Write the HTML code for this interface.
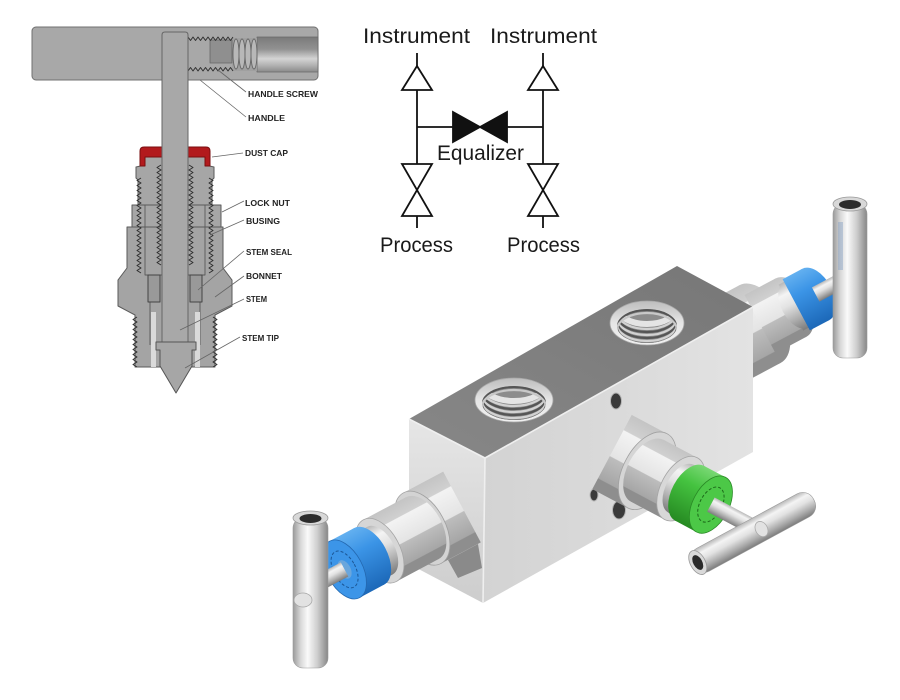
<!DOCTYPE html>
<html><head><meta charset="utf-8"><style>
html,body{margin:0;padding:0;background:#fff;}
svg{display:block}
</style></head><body>
<svg width="900" height="700" viewBox="0 0 900 700" xmlns="http://www.w3.org/2000/svg">
<defs>
<linearGradient id="gCyl" x1="0" y1="0" x2="0" y2="1">
<stop offset="0" stop-color="#b8b8b8"/><stop offset="0.22" stop-color="#f4f4f4"/><stop offset="0.45" stop-color="#e2e2e2"/><stop offset="0.75" stop-color="#adadad"/><stop offset="1" stop-color="#7c7c7c"/>
</linearGradient>
<linearGradient id="gHex" x1="0" y1="0" x2="0" y2="1">
<stop offset="0" stop-color="#c4c4c4"/><stop offset="0.2" stop-color="#d0d0d0"/><stop offset="0.21" stop-color="#f3f3f3"/><stop offset="0.55" stop-color="#e4e4e4"/><stop offset="0.56" stop-color="#bdbdbd"/><stop offset="0.85" stop-color="#a6a6a6"/><stop offset="0.86" stop-color="#8e8e8e"/><stop offset="1" stop-color="#8e8e8e"/>
</linearGradient>
<linearGradient id="gBlue" x1="0" y1="0" x2="0" y2="1"><stop offset="0" stop-color="#63b0f0"/><stop offset="0.35" stop-color="#3b94e6"/><stop offset="1" stop-color="#1c68b8"/></linearGradient>
<linearGradient id="gGreen" x1="0" y1="0" x2="0" y2="1"><stop offset="0" stop-color="#79d874"/><stop offset="0.35" stop-color="#45c340"/><stop offset="1" stop-color="#268a22"/></linearGradient>
<linearGradient id="gHV" x1="0" y1="0" x2="1" y2="0"><stop offset="0" stop-color="#9a9a9a"/><stop offset="0.22" stop-color="#d8d8d8"/><stop offset="0.42" stop-color="#fafafa"/><stop offset="0.7" stop-color="#cdcdcd"/><stop offset="1" stop-color="#878787"/></linearGradient>
<linearGradient id="gBar" x1="0" y1="0" x2="0" y2="1"><stop offset="0" stop-color="#7a7a7a"/><stop offset="0.35" stop-color="#929292"/><stop offset="0.62" stop-color="#d4d4d4"/><stop offset="0.8" stop-color="#b4b4b4"/><stop offset="1" stop-color="#8a8a8a"/></linearGradient>
<linearGradient id="gTop" x1="0" y1="1" x2="1" y2="0"><stop offset="0" stop-color="#878787"/><stop offset="1" stop-color="#777777"/></linearGradient>
<linearGradient id="gFront" x1="0" y1="0" x2="1" y2="0"><stop offset="0" stop-color="#d3d3d3"/><stop offset="0.5" stop-color="#dadada"/><stop offset="1" stop-color="#e3e3e3"/></linearGradient>
<linearGradient id="gEnd" x1="0" y1="0" x2="0" y2="1"><stop offset="0" stop-color="#e6e6e6"/><stop offset="1" stop-color="#cdcdcd"/></linearGradient>
<linearGradient id="gRim" x1="0" y1="0" x2="0" y2="1"><stop offset="0" stop-color="#bdbdbd"/><stop offset="0.5" stop-color="#e6e6e6"/><stop offset="1" stop-color="#f0f0f0"/></linearGradient>
<clipPath id="h1"><ellipse cx="514" cy="403" rx="32" ry="17"/></clipPath>
<clipPath id="h2"><ellipse cx="647" cy="326" rx="30" ry="17"/></clipPath>
</defs>

<!-- ================= CROSS SECTION ================= -->
<g stroke-linejoin="round">
<rect x="32" y="27" width="286" height="53" rx="4" fill="#a8a8a8" stroke="#707070" stroke-width="1"/>
<rect x="257" y="37" width="61" height="35" fill="url(#gBar)" stroke="#6a6a6a" stroke-width="0.8"/>
<rect x="232" y="38" width="25" height="33" fill="#a0a0a0"/>
<g fill="#b8b8b8" stroke="#666" stroke-width="0.9">
<ellipse cx="236" cy="54" rx="3" ry="15"/><ellipse cx="242" cy="54" rx="3" ry="15"/><ellipse cx="248" cy="54" rx="3" ry="15"/><ellipse cx="254" cy="54" rx="3" ry="15"/>
</g>
<rect x="210" y="40" width="22" height="23" fill="#8f8f8f" stroke="#666" stroke-width="0.8"/>
<g fill="none" stroke="#333" stroke-width="1">
<path d="M188,37 l2.5,3.5 2.5,-3.5 2.5,3.5 2.5,-3.5 2.5,3.5 2.5,-3.5 2.5,3.5 2.5,-3.5 2.5,3.5 2.5,-3.5 2.5,3.5 2.5,-3.5 2.5,3.5 2.5,-3.5 2.5,3.5 2.5,-3.5 2.5,3.5 2.5,-3.5"/>
<path d="M188,71 l2.5,-3.5 2.5,3.5 2.5,-3.5 2.5,3.5 2.5,-3.5 2.5,3.5 2.5,-3.5 2.5,3.5 2.5,-3.5 2.5,3.5 2.5,-3.5 2.5,3.5 2.5,-3.5 2.5,3.5 2.5,-3.5 2.5,3.5 2.5,-3.5 2.5,3.5"/>
</g>

<!-- bonnet -->
<polygon points="127,227 223,227 223,268 232,280 232,306 215,315 215,367 135,367 135,315 118,306 118,280 127,268" fill="#a4a4a4" stroke="#5a5a5a" stroke-width="1"/>
<!-- lock nut -->
<rect x="132" y="205" width="89" height="22" fill="#a6a6a6" stroke="#5a5a5a" stroke-width="1"/>
<!-- bushing -->
<path d="M145,157 H205 V165 L214,167 V178 L212,180 V205 H138 V180 L136,178 V167 L145,165 Z" fill="#a6a6a6" stroke="#5a5a5a" stroke-width="1"/>
<g fill="none" stroke="#5a5a5a" stroke-width="0.9">
<path d="M145,205 V275 H205 V205"/>
<path d="M150,302 V345 M200,302 V345"/>
</g>
<!-- stem seals -->
<rect x="148" y="275" width="12" height="27" fill="#999" stroke="#444" stroke-width="1"/>
<rect x="190" y="275" width="12" height="27" fill="#999" stroke="#444" stroke-width="1"/>
<!-- bore light strips -->
<rect x="151" y="312" width="5" height="55" fill="#dadada"/>
<rect x="195" y="312" width="5" height="55" fill="#dadada"/>
<!-- threads -->
<g fill="none" stroke="#2e2e2e" stroke-width="1">
<path d="M141,178 l-4,2.5 4,2.5 -4,2.5 4,2.5 -4,2.5 4,2.5 -4,2.5 4,2.5 -4,2.5 4,2.5 -4,2.5 4,2.5 -4,2.5 4,2.5 -4,2.5 4,2.5 -4,2.5 4,2.5 -4,2.5 4,2.5 -4,2.5 4,2.5 -4,2.5 4,2.5 -4,2.5 4,2.5 -4,2.5 4,2.5 -4,2.5 4,2.5 -4,2.5 4,2.5 -4,2.5 4,2.5 -4,2.5 4,2.5 -4,2.5 4,2.5"/>
<path d="M209,178 l4,2.5 -4,2.5 4,2.5 -4,2.5 4,2.5 -4,2.5 4,2.5 -4,2.5 4,2.5 -4,2.5 4,2.5 -4,2.5 4,2.5 -4,2.5 4,2.5 -4,2.5 4,2.5 -4,2.5 4,2.5 -4,2.5 4,2.5 -4,2.5 4,2.5 -4,2.5 4,2.5 -4,2.5 4,2.5 -4,2.5 4,2.5 -4,2.5 4,2.5 -4,2.5 4,2.5 -4,2.5 4,2.5 -4,2.5 4,2.5 -4,2.5"/>
<path d="M161,165 l-4,2.5 4,2.5 -4,2.5 4,2.5 -4,2.5 4,2.5 -4,2.5 4,2.5 -4,2.5 4,2.5 -4,2.5 4,2.5 -4,2.5 4,2.5 -4,2.5 4,2.5 -4,2.5 4,2.5 -4,2.5 4,2.5 -4,2.5 4,2.5 -4,2.5 4,2.5 -4,2.5 4,2.5 -4,2.5 4,2.5 -4,2.5 4,2.5 -4,2.5 4,2.5 -4,2.5 4,2.5 -4,2.5 4,2.5 -4,2.5 4,2.5 -4,2.5 4,2.5"/>
<path d="M189,165 l4,2.5 -4,2.5 4,2.5 -4,2.5 4,2.5 -4,2.5 4,2.5 -4,2.5 4,2.5 -4,2.5 4,2.5 -4,2.5 4,2.5 -4,2.5 4,2.5 -4,2.5 4,2.5 -4,2.5 4,2.5 -4,2.5 4,2.5 -4,2.5 4,2.5 -4,2.5 4,2.5 -4,2.5 4,2.5 -4,2.5 4,2.5 -4,2.5 4,2.5 -4,2.5 4,2.5 -4,2.5 4,2.5 -4,2.5 4,2.5 -4,2.5 4,2.5 -4,2.5"/>
<path d="M137,317 l-4,2.5 4,2.5 -4,2.5 4,2.5 -4,2.5 4,2.5 -4,2.5 4,2.5 -4,2.5 4,2.5 -4,2.5 4,2.5 -4,2.5 4,2.5 -4,2.5 4,2.5 -4,2.5 4,2.5 -4,2.5 4,2.5"/>
<path d="M213,317 l4,2.5 -4,2.5 4,2.5 -4,2.5 4,2.5 -4,2.5 4,2.5 -4,2.5 4,2.5 -4,2.5 4,2.5 -4,2.5 4,2.5 -4,2.5 4,2.5 -4,2.5 4,2.5 -4,2.5 4,2.5 -4,2.5"/>
</g>
<!-- dust cap -->
<path d="M140,166 V151 Q140,147 144,147 H206 Q210,147 210,151 V166 H205 V157 H145 V166 Z" fill="#b21a1d" stroke="#7a0d0f" stroke-width="1"/>
<!-- stem -->
<path d="M162,345 V35 Q162,32 165,32 H185 Q188,32 188,35 V345 Z" fill="#a8a8a8" stroke="#666" stroke-width="1"/>
<!-- stem tip -->
<path d="M156,342 H196 V350 H192 V366 L176,393 L160,366 V350 H156 Z" fill="#a6a6a6" stroke="#555" stroke-width="1"/>
</g>

<!-- leader lines -->
<g stroke="#666" stroke-width="0.8" fill="none">
<line x1="218" y1="70" x2="246" y2="92"/>
<line x1="200" y1="80" x2="246" y2="117"/>
<line x1="212" y1="157" x2="243" y2="153"/>
<line x1="222" y1="212" x2="244" y2="201"/>
<line x1="210" y1="235" x2="244" y2="220"/>
<line x1="198" y1="290" x2="244" y2="251"/>
<line x1="215" y1="297" x2="244" y2="276"/>
<line x1="180" y1="330" x2="244" y2="299"/>
<line x1="185" y1="368" x2="240" y2="337"/>
</g>
<g font-family="'Liberation Sans', Arial, sans-serif" font-weight="bold" font-size="8.5" fill="#222" lengthAdjust="spacingAndGlyphs">
<text x="248" y="97" textLength="70" lengthAdjust="spacingAndGlyphs">HANDLE SCREW</text>
<text x="248" y="121" textLength="37" lengthAdjust="spacingAndGlyphs">HANDLE</text>
<text x="245" y="156" textLength="43" lengthAdjust="spacingAndGlyphs">DUST CAP</text>
<text x="245" y="206" textLength="45" lengthAdjust="spacingAndGlyphs">LOCK NUT</text>
<text x="246" y="224" textLength="34" lengthAdjust="spacingAndGlyphs">BUSING</text>
<text x="246" y="255" textLength="46" lengthAdjust="spacingAndGlyphs">STEM SEAL</text>
<text x="246" y="279" textLength="36" lengthAdjust="spacingAndGlyphs">BONNET</text>
<text x="246" y="302" textLength="21" lengthAdjust="spacingAndGlyphs">STEM</text>
<text x="242" y="341" textLength="37" lengthAdjust="spacingAndGlyphs">STEM TIP</text>
</g>

<!-- ================= SCHEMATIC ================= -->
<g stroke="#111" stroke-width="1.8" fill="#fff">
<line x1="417" y1="53" x2="417" y2="228" fill="none"/>
<line x1="543" y1="53" x2="543" y2="228" fill="none"/>
<line x1="417" y1="127" x2="543" y2="127" fill="none"/>
<polygon points="417,66 402,90 432,90"/>
<polygon points="543,66 528,90 558,90"/>
<polygon points="402,164 432,164 417,190"/>
<polygon points="402,216 432,216 417,190"/>
<polygon points="528,164 558,164 543,190"/>
<polygon points="528,216 558,216 543,190"/>
<polygon points="453,112 453,142 480,127 507,112 507,142 480,127" fill="#111"/>
</g>
<g font-family="'Liberation Sans', Arial, sans-serif" font-size="21" fill="#1a1a1a">
<text x="363" y="43" textLength="107" lengthAdjust="spacingAndGlyphs">Instrument</text>
<text x="490" y="43" textLength="107" lengthAdjust="spacingAndGlyphs">Instrument</text>
<text x="437" y="160" textLength="87" lengthAdjust="spacingAndGlyphs">Equalizer</text>
<text x="380" y="252" textLength="73" lengthAdjust="spacingAndGlyphs">Process</text>
<text x="507" y="252" textLength="73" lengthAdjust="spacingAndGlyphs">Process</text>
</g>

<!-- ================= 3D MANIFOLD ================= -->
<!-- right valve (behind block) -->
<g transform="translate(700,356) rotate(-28)">
<rect x="20" y="-44" width="48" height="88" fill="url(#gHex)"/>
<ellipse cx="68" cy="0" rx="25" ry="44" fill="url(#gHex)"/>
<rect x="68" y="-33" width="35" height="66" fill="url(#gHex)"/>
<ellipse cx="103" cy="0" rx="19" ry="33" fill="url(#gHex)"/>
<rect x="103" y="-26" width="6" height="52" fill="url(#gCyl)"/>
<ellipse cx="109" cy="0" rx="15" ry="26" fill="url(#gCyl)"/>
<rect x="109" y="-29" width="22" height="58" fill="url(#gBlue)"/>
<ellipse cx="131" cy="0" rx="17" ry="29" fill="url(#gBlue)"/>
<rect x="131" y="-8" width="45" height="16" fill="url(#gCyl)"/>
</g>

<!-- block -->
<polygon points="409,419 677,266 753,307 485,458" fill="url(#gTop)"/>
<polygon points="409,419 485,458 483,603 409,564" fill="url(#gEnd)"/>
<polygon points="485,458 753,307 753,452 483,603" fill="url(#gFront)"/>
<g stroke="#efefef" stroke-width="1.6" fill="none">
<line x1="409" y1="419" x2="485" y2="458"/>
<line x1="485" y1="458" x2="753" y2="307"/>
<line x1="485" y1="458" x2="483" y2="603"/>
</g>

<!-- top holes -->
<ellipse cx="514" cy="400" rx="39" ry="22" fill="url(#gRim)" stroke="#a8a8a8" stroke-width="0.8"/>
<ellipse cx="514" cy="403" rx="32" ry="17" fill="#8c8c8c"/>
<g clip-path="url(#h1)" fill="none" stroke-width="2.2">
<ellipse cx="514" cy="384" rx="32" ry="17" stroke="#e4e4e4" stroke-width="6"/>
<ellipse cx="514" cy="389" rx="32" ry="17" stroke="#d2d2d2"/>
<ellipse cx="514" cy="392" rx="32" ry="17" stroke="#555"/>
<ellipse cx="514" cy="395" rx="32" ry="17" stroke="#d2d2d2"/>
<ellipse cx="514" cy="398" rx="32" ry="17" stroke="#555"/>
<ellipse cx="514" cy="401" rx="32" ry="17" stroke="#d2d2d2"/>
<ellipse cx="514" cy="404" rx="32" ry="17" stroke="#555"/>
<ellipse cx="514" cy="407" rx="32" ry="17" stroke="#c8c8c8"/>
</g>
<ellipse cx="647" cy="323" rx="37" ry="22" fill="url(#gRim)" stroke="#a8a8a8" stroke-width="0.8"/>
<ellipse cx="647" cy="326" rx="30" ry="17" fill="#8c8c8c"/>
<g clip-path="url(#h2)" fill="none" stroke-width="2.2">
<ellipse cx="647" cy="307" rx="30" ry="17" stroke="#e4e4e4" stroke-width="6"/>
<ellipse cx="647" cy="312" rx="30" ry="17" stroke="#d2d2d2"/>
<ellipse cx="647" cy="315" rx="30" ry="17" stroke="#555"/>
<ellipse cx="647" cy="318" rx="30" ry="17" stroke="#d2d2d2"/>
<ellipse cx="647" cy="321" rx="30" ry="17" stroke="#555"/>
<ellipse cx="647" cy="324" rx="30" ry="17" stroke="#d2d2d2"/>
<ellipse cx="647" cy="327" rx="30" ry="17" stroke="#555"/>
<ellipse cx="647" cy="330" rx="30" ry="17" stroke="#c8c8c8"/>
</g>

<!-- small holes front face -->
<ellipse cx="616" cy="401" rx="5.5" ry="8" fill="#3a3a3a" stroke="#b5b5b5" stroke-width="1"/>
<ellipse cx="594" cy="495" rx="4" ry="6" fill="#3a3a3a" stroke="#b5b5b5" stroke-width="1"/>
<ellipse cx="619" cy="510" rx="6.5" ry="9" fill="#3a3a3a" stroke="#b5b5b5" stroke-width="1"/>

<!-- shadow under left valve -->
<polygon points="448,560 478,544 482,568 458,578" fill="#8a8a8a"/>

<!-- left valve -->
<g transform="translate(462,507) rotate(-28)">
<rect x="-45" y="-40" width="45" height="80" fill="url(#gHex)"/>
<ellipse cx="-45" cy="0" rx="23" ry="40" fill="#d3d3d3" stroke="#a0a0a0" stroke-width="0.8"/>
<ellipse cx="-45" cy="0" rx="20" ry="35" fill="url(#gHex)"/>
<rect x="-93" y="-35" width="48" height="70" fill="url(#gHex)"/>
<ellipse cx="-93" cy="0" rx="20" ry="35" fill="#d6d6d6" stroke="#a5a5a5" stroke-width="0.8"/>
<ellipse cx="-93" cy="0" rx="15" ry="27" fill="url(#gCyl)"/>
<rect x="-103" y="-27" width="10" height="54" fill="url(#gCyl)"/>
<ellipse cx="-103" cy="0" rx="15" ry="27" fill="#cfcfcf"/>
<ellipse cx="-105" cy="0" rx="18" ry="32" fill="url(#gBlue)"/>
<rect x="-133" y="-32" width="28" height="64" fill="url(#gBlue)"/>
<ellipse cx="-133" cy="0" rx="18" ry="32" fill="#3c95e8" stroke="#2468b0" stroke-width="0.8"/>
<ellipse cx="-133" cy="0" rx="11" ry="20" fill="none" stroke="#1c5796" stroke-width="1" stroke-dasharray="3 2"/>
<ellipse cx="-133" cy="0" rx="6" ry="10" fill="#6aa6dc"/>
<rect x="-178" y="-8" width="45" height="16" fill="url(#gCyl)"/>
</g>

<!-- middle valve -->
<g transform="translate(612,452) rotate(28)">
<rect x="0" y="-42" width="40" height="84" fill="url(#gHex)"/>
<ellipse cx="40" cy="0" rx="24" ry="42" fill="#d5d5d5" stroke="#a0a0a0" stroke-width="0.8"/>
<ellipse cx="40" cy="0" rx="20" ry="35" fill="url(#gHex)"/>
<rect x="40" y="-35" width="38" height="70" fill="url(#gHex)"/>
<ellipse cx="78" cy="0" rx="20" ry="35" fill="#d8d8d8" stroke="#a5a5a5" stroke-width="0.8"/>
<ellipse cx="78" cy="0" rx="15" ry="27" fill="url(#gCyl)"/>
<rect x="78" y="-27" width="10" height="54" fill="url(#gCyl)"/>
<ellipse cx="88" cy="0" rx="15" ry="27" fill="#d0d0d0"/>
<ellipse cx="88" cy="0" rx="18" ry="31" fill="url(#gGreen)"/>
<rect x="88" y="-31" width="24" height="62" fill="url(#gGreen)"/>
<ellipse cx="112" cy="0" rx="18" ry="31" fill="#4cc847" stroke="#2a8a26" stroke-width="0.8"/>
<ellipse cx="112" cy="0" rx="11" ry="19" fill="none" stroke="#1d6a1a" stroke-width="1" stroke-dasharray="3 2"/>
<rect x="112" y="-8" width="45" height="16" fill="url(#gCyl)"/>
</g>

<!-- middle T handle -->
<g transform="translate(754,532) rotate(-28.5)">
<rect x="-70" y="-13" width="138" height="26" rx="12" fill="url(#gCyl)" stroke="#9a9a9a" stroke-width="0.6"/>
<ellipse cx="-64" cy="0" rx="7.5" ry="13" fill="#d9d9d9" stroke="#9a9a9a" stroke-width="0.8"/>
<ellipse cx="-64" cy="0" rx="4.5" ry="8" fill="#2a2a2a"/>
<ellipse cx="8" cy="1" rx="6" ry="8" fill="#e2e2e2" stroke="#aaa" stroke-width="0.8"/>
</g>

<!-- left handle -->
<rect x="293" y="518" width="35" height="150" rx="10" fill="url(#gHV)" stroke="#9a9a9a" stroke-width="0.6"/>
<ellipse cx="310.5" cy="518" rx="17.5" ry="7" fill="#d8d8d8" stroke="#999" stroke-width="0.8"/>
<ellipse cx="310.5" cy="518.5" rx="11" ry="4.5" fill="#2c2c2c"/>
<ellipse cx="303" cy="600" rx="9" ry="7" fill="#e2e2e2" stroke="#a8a8a8" stroke-width="0.8"/>

<!-- right handle -->
<rect x="833" y="204" width="34" height="154" rx="10" fill="url(#gHV)" stroke="#9a9a9a" stroke-width="0.6"/>
<rect x="838" y="222" width="5" height="48" fill="#8ea6c6" opacity="0.5"/>
<ellipse cx="850" cy="204" rx="17" ry="7" fill="#d8d8d8" stroke="#999" stroke-width="0.8"/>
<ellipse cx="850" cy="204.5" rx="11" ry="4.5" fill="#2c2c2c"/>
</svg>
</body></html>
